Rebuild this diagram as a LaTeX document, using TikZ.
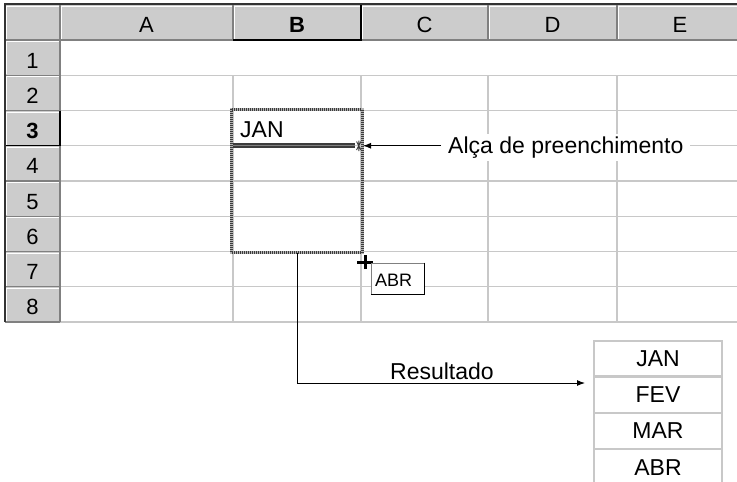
\documentclass[tikz,border=0pt]{standalone}
\usepackage{fontspec}
\setmainfont{Liberation Sans}
\usetikzlibrary{arrows.meta}
\definecolor{hdr}{HTML}{CCCCCC}
\definecolor{gridc}{HTML}{C8C8C8}
\definecolor{hdark}{HTML}{808080}
\definecolor{selA}{HTML}{B4B4B4}
\definecolor{selB}{HTML}{3C3C3C}
\begin{document}
\begin{tikzpicture}[x=1pt,y=-1pt,
  txt/.style={font=\fontsize{23}{27}\selectfont, inner sep=0pt},
  hdrtxt/.style={font=\fontsize{22}{26}\selectfont, inner sep=0pt, anchor=base},
  gridline/.style={gridc, line width=1.3pt},
  hline/.style={hdark, line width=1.2pt},
  hlight/.style={white, line width=1.2pt},
  selline/.style={line width=3pt},
  rescell/.style={draw=gridc, line width=1.2pt, minimum width=128pt, minimum height=35pt, inner sep=0pt, font=\fontsize{23}{27}\selectfont},
  conn/.style={black, line width=1pt},
  tip/.style={-{Latex[length=8pt,width=6pt]}}
]
\useasboundingbox (0,0) rectangle (737,482);
% header background
\fill[hdr] (5,4) rectangle (737,40);
\fill[hdr] (5,40) rectangle (60,322);
% grid lines
\foreach \i in {1,...,8} {
  \pgfmathsetmacro{\yy}{40+35.25*\i}
  \draw[gridline] (60,\yy) -- (737,\yy);
}
\foreach \xx in {233,361,488,617} {
  \draw[gridline] (\xx,75.25) -- (\xx,322);
}
% column header bevels
\foreach \xa/\xb in {5/60,60/233,233/361,361/488,488/617,617/745} {
  \draw[hlight] (\xa+1.6,39) -- (\xa+1.6,6.2) -- (\xb-1,6.2);
  \draw[hline] (\xb,4) -- (\xb,40);
  \draw[hline] (\xa,40) -- (\xb,40);
}
% row header bevels
\foreach \i in {1,...,8} {
  \pgfmathsetmacro{\ya}{40+35.25*(\i-1)}
  \pgfmathsetmacro{\yb}{40+35.25*\i}
  \draw[hlight] (6.8,\yb-1) -- (6.8,\ya+1.6) -- (59,\ya+1.6);
  \draw[hline] (5,\yb) -- (60,\yb);
  \draw[hline] (60,\ya) -- (60,\yb);
}
% selected headers
\draw[black, line width=1.3pt] (233,40) -- (361,40) -- (361,4);
\draw[black, line width=1.3pt] (5,145.75) -- (60,145.75) -- (60,110.5);
% outer border
\draw[black!80, line width=2pt] (5,322) -- (5,4) -- (737,4);
% header texts
\node[hdrtxt] (hA) at (146.5,32.5) {A};
\node[hdrtxt] (hB) at (297,32.5) {\bfseries B};
\node[hdrtxt] (hC) at (424.5,32.5) {C};
\node[hdrtxt] (hD) at (552.5,32.5) {D};
\node[hdrtxt] (hE) at (680,32.5) {E};
\foreach \i in {1,2,4,5,6,7,8} {
  \pgfmathsetmacro{\yb}{40+35.25*(\i-1)+28}
  \node[hdrtxt] (r\i) at (32.5,\yb) {\i};
}
\node[hdrtxt] (r3) at (32.5,138.5) {\bfseries 3};
% cell content
\node[txt, anchor=base west] (jan) at (240,137.5) {JAN};
% selection
\node[minimum width=130pt, minimum height=143pt, inner sep=0pt] (sel) at (297,181) {};
\draw[selline, selA] (sel.north west) rectangle (sel.south east);
\draw[selline, selB, dash pattern=on 1pt off 1pt] (sel.north west) rectangle (sel.south east);
% fill handle line
\draw[selB, line width=1.6pt, double=hdark, double distance=1.4pt] (233,145.75) -- (355,145.75);
\coordinate (handle) at (363,145.75);
\draw[selB, line width=0.9pt] (356.5,141.5) -- (361,150) (356.5,150) -- (361,141.5) (358.8,140.5) -- (358.8,151);
% label
\node[txt, fill=white, inner xsep=7pt, inner ysep=3pt, anchor=base west] (lbl) at (441,153.5) {Alça de preenchimento};
\draw[conn, tip] (lbl.west |- handle) -- (handle);
% cursor
\coordinate (cur) at (365,262);
\draw[black, line width=3pt] ([xshift=-8pt]cur) -- ([xshift=8pt]cur) ([yshift=-7pt]cur) -- ([yshift=7pt]cur);
% tooltip
\node[draw=hdark, line width=0.8pt, fill=white, minimum width=53pt, minimum height=31pt, inner sep=0pt] (tipbox) at (397.5,278.5) {};
\draw[black, line width=1.6pt] (tipbox.north east) -- (tipbox.south east) -- (tipbox.south west);
\node[font=\fontsize{18}{21}\selectfont, inner sep=0pt, anchor=base west] (tiptxt) at (375,286) {ABR};
% result table
\node[rescell] (res1) at (658,358.5) {JAN};
\node[rescell, anchor=north] (res2) at (res1.south) {FEV};
\node[rescell, anchor=north] (res3) at (res2.south) {MAR};
\node[rescell, anchor=north] (res4) at (res3.south) {ABR};
\coordinate (resin) at (585,383);
\draw[conn, tip] (sel.south) |- (resin);
\node[txt, anchor=base west] (reslbl) at (390,379.5) {Resultado};
\end{tikzpicture}
\end{document}
